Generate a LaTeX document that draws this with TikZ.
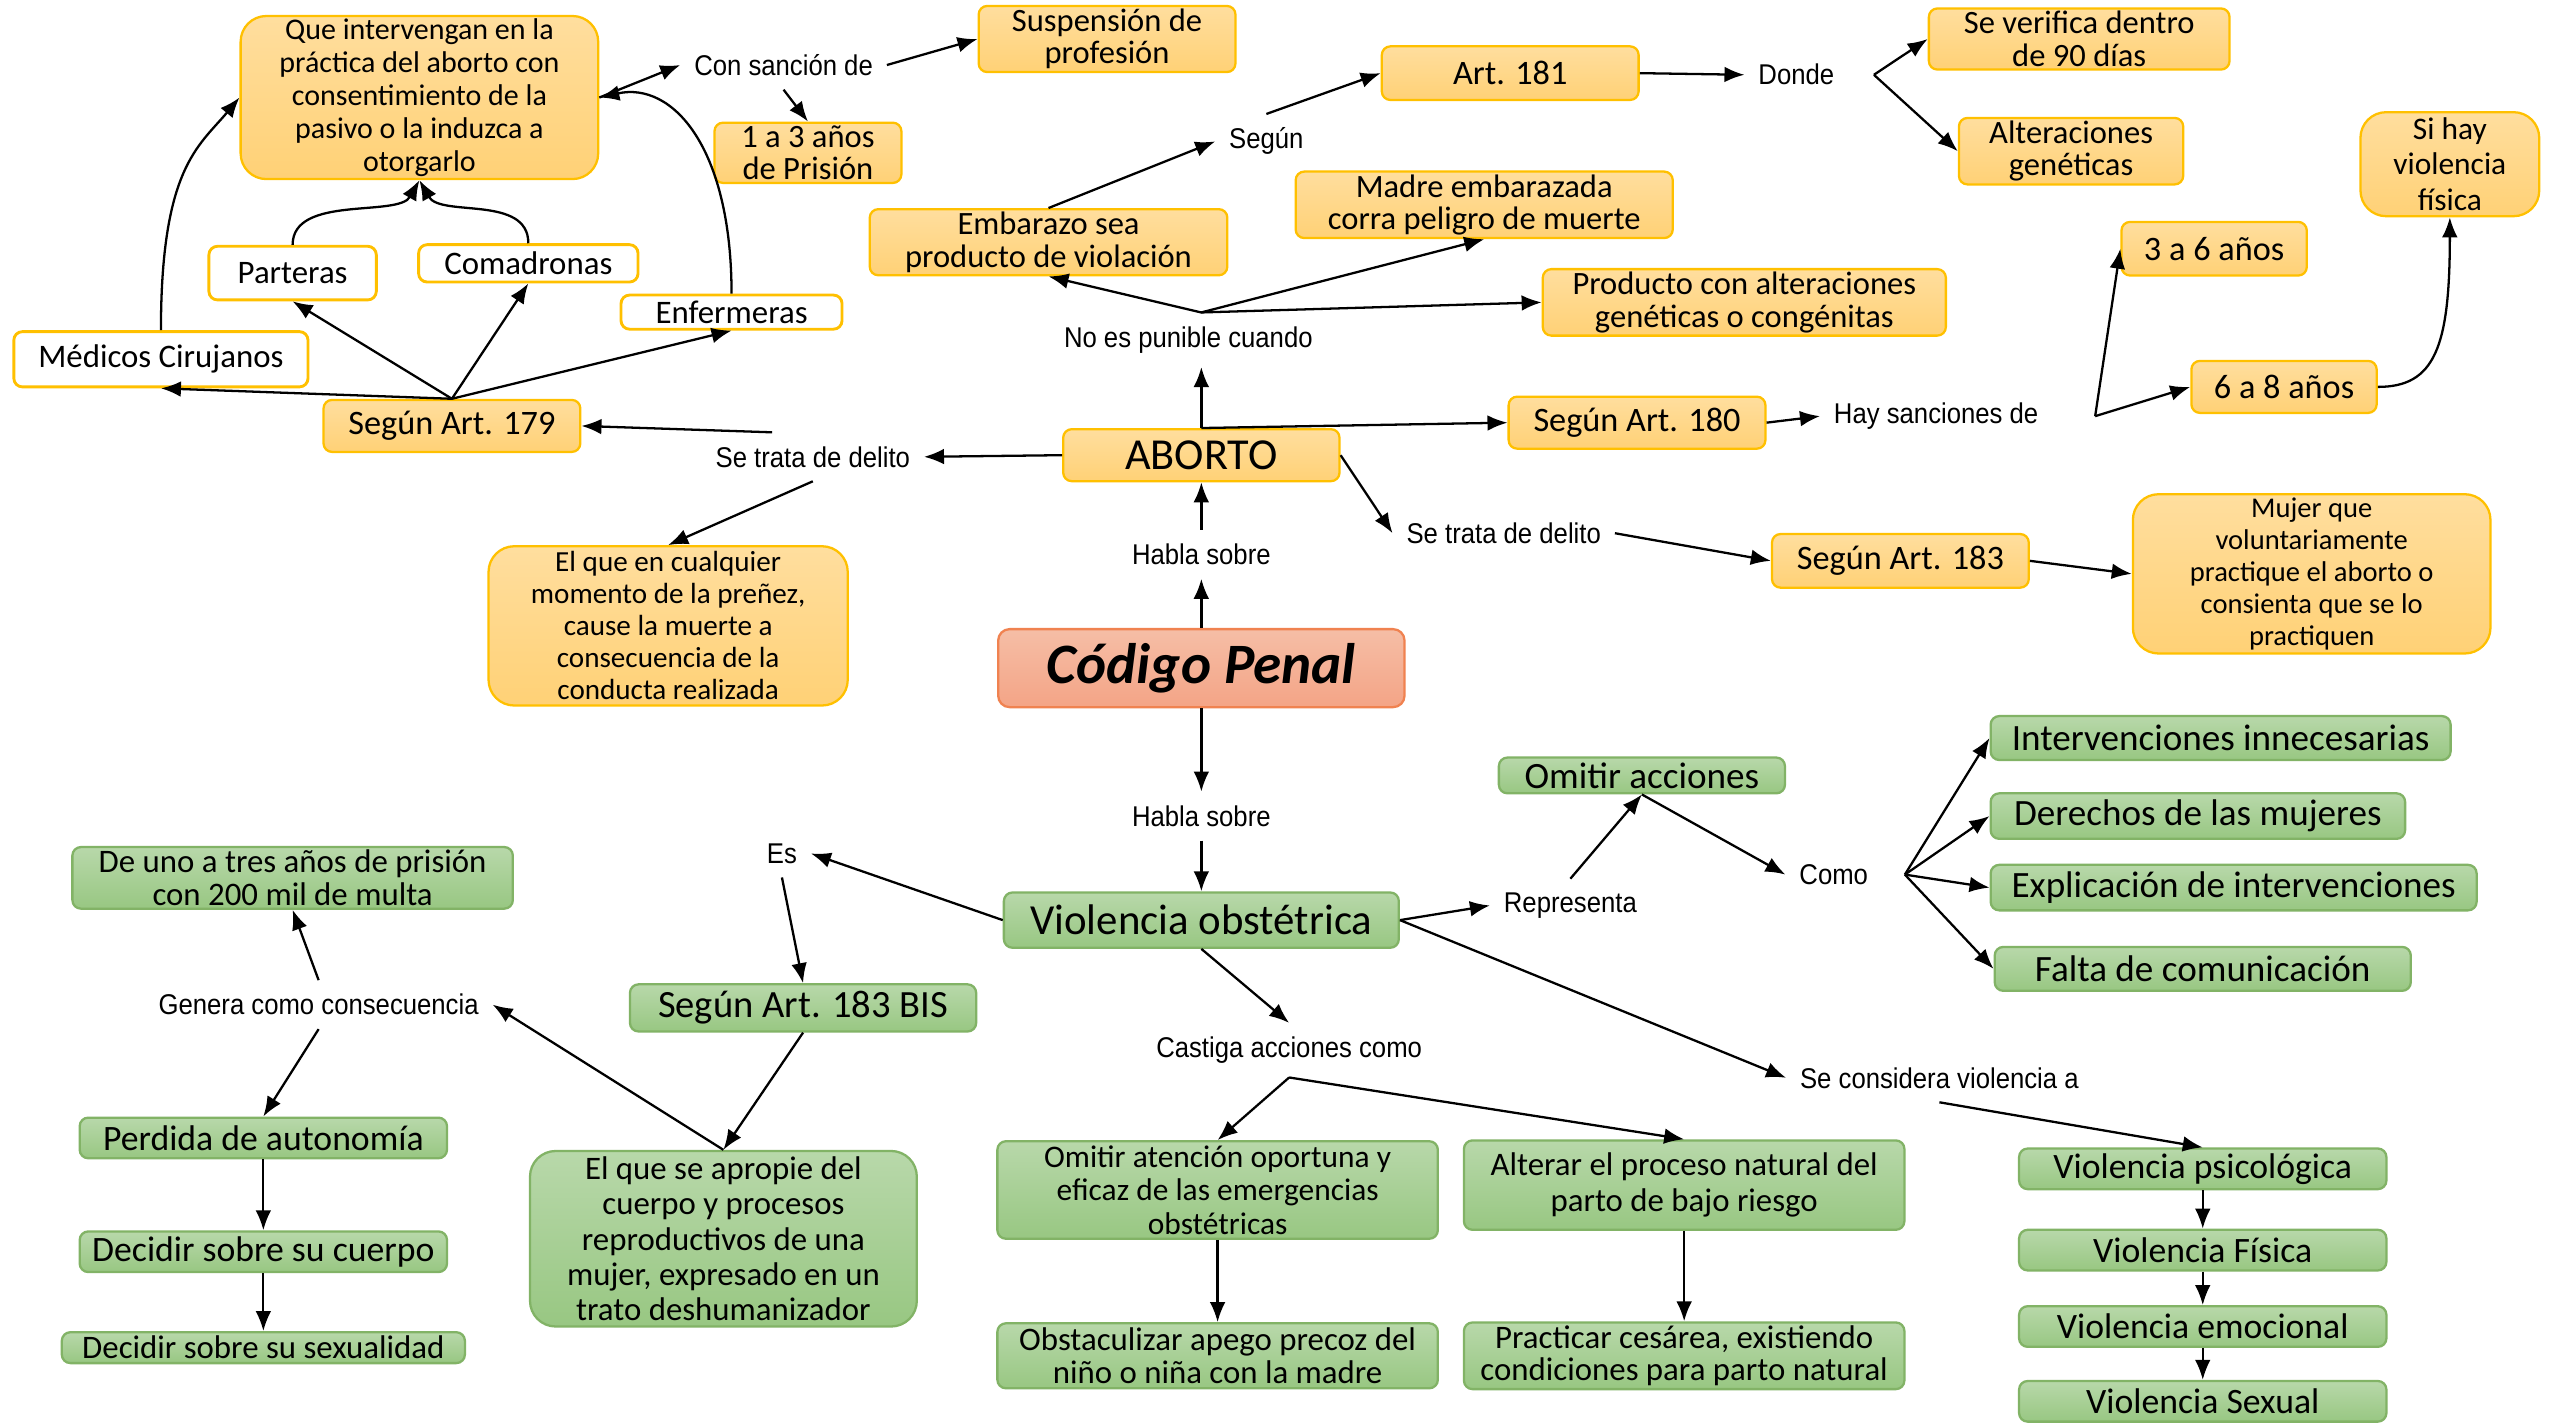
\documentclass[tikz,border=0pt]{standalone}
\usepackage{fontspec}
\setmainfont{Carlito}
\newfontfamily\lblfont[FakeStretch=0.9]{Liberation Sans}
\usepackage{tikz}
\usetikzlibrary{arrows.meta,positioning}
\definecolor{orTop}{RGB}{255,222,158}
\definecolor{orBot}{RGB}{255,209,118}
\definecolor{orLine}{RGB}{255,192,0}
\definecolor{grTop}{RGB}{184,216,170}
\definecolor{grBot}{RGB}{152,199,130}
\definecolor{grLine}{RGB}{130,179,102}
\definecolor{saTop}{RGB}{245,190,166}
\definecolor{saBot}{RGB}{244,164,134}
\definecolor{saLine}{RGB}{240,130,80}
\tikzstyle{obox} = [draw=orLine,line width=0.8pt,rounded corners=3pt,top color=orTop,bottom color=orBot,align=center,inner sep=1pt,font=\fontsize{12}{13}\selectfont]
\tikzstyle{wbox} = [draw=orLine,line width=1pt,rounded corners=3pt,fill=white,align=center,inner sep=1pt,font=\fontsize{11.5}{12}\selectfont]
\tikzstyle{gbox} = [draw=grLine,line width=0.8pt,rounded corners=3pt,top color=grTop,bottom color=grBot,align=center,inner sep=1pt,font=\fontsize{13}{14}\selectfont]
\tikzstyle{pbox} = [draw=saLine,line width=0.8pt,rounded corners=4pt,top color=saTop,bottom color=saBot,align=center,inner sep=1pt]
\tikzstyle{rowbox} = [gbox,minimum width=4.52cm,minimum height=0.5cm,font=\fontsize{12.5}{13}\selectfont]
\tikzstyle{bigbox} = [rounded corners=9pt]
\tikzstyle{twoline} = [font=\fontsize{11.4}{11.4}\selectfont]
\tikzstyle{lbl} = [font=\lblfont\fontsize{10}{12}\selectfont,inner sep=4.5pt]
\tikzset{>={Latex[length=7pt,width=5.5pt]}}

\begin{document}
\begin{tikzpicture}[x=0.02cm,y=-0.02cm,thick]
    \path[use as bounding box,fill=white] (0,0) rectangle (1568,875);

    \node[obox,bigbox,minimum width=4.4cm,minimum height=1.92cm,font=\fontsize{10.5}{11.5}\selectfont] (intervengan) at (258,60) {Que intervengan en la\\práctica del aborto con\\consentimiento de la\\pasivo o la induzca a\\otorgarlo};
    \node[lbl] (sancion) at (482,40) {Con sanción de};
    \node[obox,twoline,minimum width=3.16cm,minimum height=0.68cm] (suspension) at (681,24) {Suspensión de\\profesión};
    \node[obox,twoline,minimum width=2.3cm,minimum height=0.68cm] (prision) at (497,94) {1 a 3 años\\de Prisión};
    \node[wbox,minimum width=2.06cm,minimum height=0.66cm] (parteras) at (180,168) {Parteras};
    \node[wbox,minimum width=2.7cm,minimum height=0.46cm] (comadronas) at (325,162) {Comadronas};
    \node[wbox,minimum width=2.72cm,minimum height=0.42cm] (enfermeras) at (450,192) {Enfermeras};
    \node[wbox,minimum width=3.62cm,minimum height=0.68cm] (medicos) at (99,221) {Médicos Cirujanos};
    \node[obox,minimum width=3.16cm,minimum height=0.64cm] (art179) at (278,262) {Según Art. 179};
    \node[lbl] (delitoL) at (500,281) {Se trata de delito};
    \node[obox,bigbox,minimum width=4.42cm,minimum height=1.96cm,font=\fontsize{10.2}{11.2}\selectfont] (muerte) at (411,385) {El que en cualquier\\momento de la preñez,\\cause la muerte a\\consecuencia de la\\conducta realizada};
    \node[obox,minimum width=3.4cm,minimum height=0.64cm,font=\fontsize{15.5}{16}\selectfont] (aborto) at (739,280) {ABORTO};
    \node[lbl] (hablaA) at (739,341) {Habla sobre};
    \node[pbox,minimum width=5cm,minimum height=0.96cm,font=\fontsize{20}{22}\selectfont\bfseries\itshape] (codigo) at (739,411) {Código Penal};

    \node[lbl] (noPunible) at (731,209) {No es punible cuando};
    \node[obox,twoline,minimum width=4.4cm,minimum height=0.66cm] (embarazo) at (645,149) {Embarazo sea\\producto de violación};
    \node[lbl] (segun) at (779,87) {Según};
    \node[obox,minimum width=3.16cm,minimum height=0.66cm] (art181) at (929,45) {Art. 181};
    \node[lbl] (donde) at (1105,46) {Donde};
    \node[obox,twoline,minimum width=3.7cm,minimum height=0.68cm] (verifica) at (1279,24) {Se verifica dentro\\de 90 días};
    \node[obox,twoline,minimum width=2.76cm,minimum height=0.68cm] (geneticas) at (1274,93) {Alteraciones\\genéticas};
    \node[obox,twoline,minimum width=4.64cm,minimum height=0.68cm] (madre) at (913,126) {Madre embarazada\\corra peligro de muerte};
    \node[obox,twoline,minimum width=4.96cm,minimum height=0.68cm] (producto) at (1073,186) {Producto con alteraciones\\genéticas o congénitas};
    \node[obox,minimum width=3.16cm,minimum height=0.64cm] (art180) at (1007,260) {Según Art. 180};
    \node[lbl] (sanciones) at (1191,256) {Hay sanciones de};
    \node[obox,minimum width=2.28cm,minimum height=0.66cm] (tresSeis) at (1362,153) {3 a 6 años};
    \node[obox,minimum width=2.28cm,minimum height=0.64cm] (seisOcho) at (1405,238) {6 a 8 años};
    \node[obox,bigbox,minimum width=2.2cm,minimum height=1.28cm,font=\fontsize{11}{12.5}\selectfont] (fisica) at (1507,101) {Si hay\\violencia\\física};
    \node[lbl] (delitoR) at (925,328) {Se trata de delito};
    \node[obox,minimum width=3.16cm,minimum height=0.66cm] (art183) at (1169,345) {Según Art. 183};
    \node[obox,bigbox,minimum width=4.4cm,minimum height=1.96cm,font=\fontsize{10}{11.2}\selectfont] (mujer) at (1422,353) {Mujer que\\voluntariamente\\practique el aborto o\\consienta que se lo\\practiquen};

    \node[lbl] (hablaB) at (739,502) {Habla sobre};
    \node[gbox,minimum width=4.86cm,minimum height=0.68cm,font=\fontsize{15}{16}\selectfont] (obstetrica) at (739,566) {Violencia obstétrica};
    \node[lbl] (representa) at (966,557) {Representa};
    \node[gbox,minimum width=3.52cm,minimum height=0.44cm] (omitirAcc) at (1010,477) {Omitir acciones};
    \node[lbl] (como) at (1128,538) {Como};
    \node[gbox,minimum width=5.66cm,minimum height=0.54cm] (innecesarias) at (1366,454) {Intervenciones innecesarias};
    \node[gbox,minimum width=5.1cm,minimum height=0.56cm] (derechos) at (1352,502) {Derechos de las mujeres};
    \node[gbox,minimum width=5.98cm,minimum height=0.56cm] (explicacion) at (1374,546) {Explicación de intervenciones};
    \node[gbox,minimum width=5.12cm,minimum height=0.54cm] (comunicacion) at (1355,596) {Falta de comunicación};
    \node[lbl] (considera) at (1193,663) {Se considera violencia a};
    \node[rowbox] (psicologica) at (1355,719) {Violencia psicológica};
    \node[rowbox] (vfisica) at (1355,769) {Violencia Física};
    \node[rowbox] (emocional) at (1355,816) {Violencia emocional};
    \node[rowbox] (sexual) at (1355,862) {Violencia Sexual};
    \node[lbl] (castiga) at (793,646) {Castiga acciones como};
    \node[gbox,minimum width=5.42cm,minimum height=1.2cm,font=\fontsize{11}{11.8}\selectfont] (atencion) at (749,732) {Omitir atención oportuna y\\eficaz de las emergencias\\obstétricas};
    \node[gbox,minimum width=5.42cm,minimum height=1.1cm,font=\fontsize{11.5}{12.5}\selectfont] (alterar) at (1036,729) {Alterar el proceso natural del\\parto de bajo riesgo};
    \node[gbox,minimum width=5.42cm,minimum height=0.8cm,font=\fontsize{11.5}{11.5}\selectfont] (apego) at (749,834) {Obstaculizar apego precoz del\\niño o niña con la madre};
    \node[gbox,minimum width=5.42cm,minimum height=0.8cm,font=\fontsize{11.5}{11.5}\selectfont] (cesarea) at (1036,834) {Practicar cesárea, existiendo\\condiciones para parto natural};
    \node[lbl] (es) at (481,525) {Es};
    \node[gbox,minimum width=4.26cm,minimum height=0.58cm,font=\fontsize{13.5}{14}\selectfont] (art183bis) at (494,620) {Según Art. 183 BIS};
    \node[gbox,bigbox,minimum width=4.76cm,minimum height=2.16cm,font=\fontsize{11.5}{12.3}\selectfont] (apropie) at (445,762) {El que se apropie del\\cuerpo y procesos\\reproductivos de una\\mujer, expresado en un\\trato deshumanizador};
    \node[lbl] (genera) at (196,618) {Genera como consecuencia};
    \node[gbox,minimum width=5.42cm,minimum height=0.7cm,font=\fontsize{11.5}{11.5}\selectfont] (multa) at (180,540) {De uno a tres años de prisión\\con 200 mil de multa};
    \node[rowbox] (autonomia) at (162,700) {Perdida de autonomía};
    \node[rowbox] (cuerpo) at (162,770) {Decidir sobre su cuerpo};
    \node[gbox,minimum width=4.96cm,minimum height=0.38cm,font=\fontsize{11.5}{12}\selectfont] (sexualidad) at (162,829) {Decidir sobre su sexualidad};

    \coordinate (puniHub) at ([xshift=4.5pt]noPunible.north);
    \coordinate (dondeHub) at ([xshift=9pt]donde.east);
    \coordinate (sancHub) at ([xshift=15pt]sanciones.east);
    \coordinate (comoHub) at ([xshift=8pt]como.east);

    \draw[->] (codigo.north) -- (hablaA.south);
    \draw[->] (hablaA.north) -- (aborto.south);
    \draw[->] (codigo.south) -- (hablaB.north);
    \draw[->] (hablaB.south) -- (obstetrica.north);

    \draw[->] (aborto.west) -- (delitoL.east);
    \draw[->] ([xshift=-5mm]delitoL.north) -- (art179.east);
    \draw[->] (delitoL.south) -- (muerte.north);
    \foreach \who in {medicos,parteras,comadronas,enfermeras}
      \draw[->] (art179.north) -- (\who.south);
    \draw[->] (medicos.north) .. controls +(0,-100) and +(-25,30) .. (intervengan.west);
    \draw[->] (parteras.north) .. controls +(0,-31) and +(-13,23) .. (intervengan.south);
    \draw[->] (comadronas.north) .. controls +(0,-30) and +(13,23) .. (intervengan.south);
    \draw[->] (enfermeras.north) .. controls +(0,-90) and +(45,-10) .. (intervengan.east);
    \draw[->] (intervengan.east) -- (sancion.west);
    \draw[->] (sancion.east) -- (suspension.west);
    \draw[->] (sancion.south) -- (prision.north);

    \draw[->] (aborto.north) -- (aborto.north |- noPunible.south);
    \draw[->] (aborto.north) -- (art180.west);
    \draw[->] (puniHub) -- (embarazo.south);
    \draw[->] (puniHub) -- (madre.south);
    \draw[->] (puniHub) -- (producto.west);
    \draw[->] (embarazo.north) -- (segun.west);
    \draw[->] (segun.north) -- (art181.west);
    \draw[->] (art181.east) -- (donde.west);
    \draw[->] (dondeHub) -- (verifica.west);
    \draw[->] (dondeHub) -- (geneticas.west);
    \draw[->] (art180.east) -- (sanciones.west);
    \draw[->] (sancHub) -- (tresSeis.west);
    \draw[->] (sancHub) -- (seisOcho.west);
    \draw[->] (seisOcho.east) .. controls +(35,0) and +(0,80) .. (fisica.south);
    \draw[->] (aborto.east) -- (delitoR.west);
    \draw[->] (delitoR.east) -- (art183.west);
    \draw[->] (art183.east) -- (mujer.west);

    \draw[->] (obstetrica.west) -- (es.east);
    \draw[->] (es.south) -- (art183bis.north);
    \draw[->] (art183bis.south) -- (apropie.north);
    \draw[->] (apropie.north) -- (genera.east);
    \draw[->] (genera.north) -- (multa.south);
    \draw[->] (genera.south) -- (autonomia.north);
    \draw[->] (autonomia) -- (cuerpo);
    \draw[->] (cuerpo) -- (sexualidad);
    \draw[->] (obstetrica.east) -- (representa.west);
    \draw[->] (representa.north) -- (omitirAcc.south);
    \draw[->] (omitirAcc.south) -- (como.west);
    \foreach \who in {innecesarias,derechos,explicacion,comunicacion}
      \draw[->] (comoHub) -- (\who.west);
    \draw[->] (obstetrica.east) -- (considera.west);
    \draw[->] (considera.south) -- (psicologica.north);
    \draw[->] (psicologica) -- (vfisica);
    \draw[->] (vfisica) -- (emocional);
    \draw[->] (emocional) -- (sexual);
    \draw[->] (obstetrica.south) -- (castiga.north);
    \draw[->] (castiga.south) -- (atencion.north);
    \draw[->] (castiga.south) -- (alterar.north);
    \draw[->] (atencion) -- (apego);
    \draw[->] (alterar) -- (cesarea);
\end{tikzpicture}
\end{document}
